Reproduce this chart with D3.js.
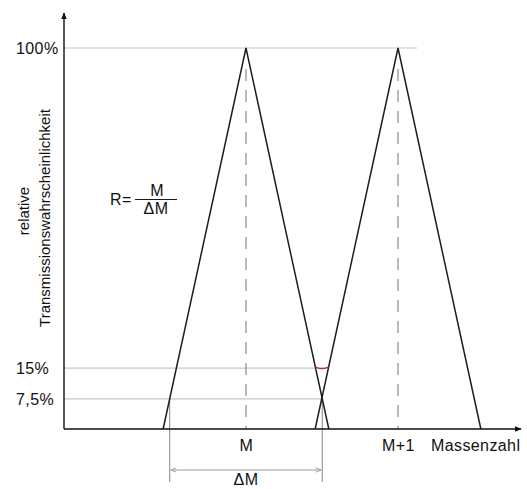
<!DOCTYPE html>
<html>
<head>
<meta charset="utf-8">
<script src="https://cdn.jsdelivr.net/npm/d3@7"></script>
<style>
  body { margin: 0; background: #fff; }
  svg { display: block; font-family: "Liberation Sans", Arial, sans-serif; }
  .lbl { font-size: 16px; letter-spacing: 0.4px; fill: #111; }
  .ytitle { font-size: 15px; fill: #111; }
</style>
</head>
<body>
<svg id="drawing_region"></svg>
<script>
// peaks at mass M and M+1 (x units: 0 = M)
const peakMasses = [0, 1];
const peakLabels = ['M', 'M+1'];
const peakHeight = 100;
const halfWidth = 0.545;        // half base width of a peak, in mass units
// horizontal reference levels (percent) and their labels
const levels = [100, 16, 7.9];
const levelLabels = ['100%', '15%', '7,5%'];
const xDomain = [-1.197, 1.809];
const gridTopEnd = 1.125;

const width = 527, height = 489;
const svg = d3.select('#drawing_region')
  .attr('width', width)
  .attr('height', height);

const xscale = d3.scaleLinear().domain(xDomain).range([64, 521]);
const yscale = d3.scaleLinear().domain([0, 100]).range([429, 48]);

// where a peak's flanks sit at a given level
const rightEdge = (m, lv) => m + halfWidth * (1 - lv / peakHeight);
const leftEdge = (m, lv) => m - halfWidth * (1 - lv / peakHeight);

const defs = svg.append('defs');
defs.append('marker')
  .attr('id', 'axarrow')
  .attr('viewBox', '0 0 10 10')
  .attr('refX', 9).attr('refY', 5)
  .attr('markerWidth', 7).attr('markerHeight', 7)
  .attr('markerUnits', 'userSpaceOnUse')
  .attr('orient', 'auto')
  .append('path').attr('d', 'M0,1 L10,5 L0,9 Z').attr('fill', '#111');
defs.append('marker')
  .attr('id', 'dmarrow')
  .attr('viewBox', '0 0 10 10')
  .attr('refX', 10).attr('refY', 5)
  .attr('markerWidth', 7).attr('markerHeight', 7)
  .attr('markerUnits', 'userSpaceOnUse')
  .attr('orient', 'auto-start-reverse')
  .append('path').attr('d', 'M2,2 L10,5 L2,8').attr('fill', 'none')
  .attr('stroke', '#999').attr('stroke-width', 1.2);

// grid lines
const gridEnds = [gridTopEnd, rightEdge(peakMasses[0], levels[1]), rightEdge(peakMasses[0], levels[2])];
svg.append('g').selectAll('line')
  .data(levels)
  .enter().append('line')
  .attr('x1', xscale(xDomain[0]))
  .attr('x2', (d, i) => xscale(gridEnds[i]))
  .attr('y1', d => yscale(d)).attr('y2', d => yscale(d))
  .attr('stroke', '#c8c8c8').attr('stroke-width', 1.2);

// level labels
svg.append('g').selectAll('text')
  .data(levels)
  .enter().append('text')
  .attr('class', 'lbl')
  .attr('x', 16)
  .attr('y', d => yscale(d))
  .attr('dy', '0.35em')
  .text((d, i) => levelLabels[i]);

// dashed centre lines
svg.append('g').selectAll('line')
  .data(peakMasses)
  .enter().append('line')
  .attr('x1', d => xscale(d)).attr('x2', d => xscale(d))
  .attr('y1', yscale(peakHeight) + 21).attr('y2', yscale(0))
  .attr('stroke', '#8a8a8a').attr('stroke-width', 1.2)
  .attr('stroke-dasharray', '12,9');

// ΔM brackets
const dmLeft = leftEdge(peakMasses[0], levels[2]);
const dmRight = rightEdge(peakMasses[0], levels[2]);
svg.append('g').selectAll('line')
  .data([dmLeft, dmRight])
  .enter().append('line')
  .attr('x1', d => xscale(d)).attr('x2', d => xscale(d))
  .attr('y1', yscale(levels[2])).attr('y2', 482)
  .attr('stroke', '#999').attr('stroke-width', 1.2);
svg.append('line')
  .attr('x1', xscale(dmLeft) + 1).attr('x2', xscale(dmRight) - 1)
  .attr('y1', 470).attr('y2', 470)
  .attr('stroke', '#999').attr('stroke-width', 1.2)
  .attr('marker-start', 'url(#dmarrow)')
  .attr('marker-end', 'url(#dmarrow)');

// peaks
const line = d3.line()
  .x(d => xscale(d[0]))
  .y(d => yscale(d[1]));
svg.append('g').selectAll('path')
  .data(peakMasses)
  .enter().append('path')
  .attr('d', m => line([[m - halfWidth, 0], [m, peakHeight], [m + halfWidth, 0]]))
  .attr('fill', 'none')
  .attr('stroke', '#1e1e1e').attr('stroke-width', 1.5);

// red mark between the flanks at 15%
const ra = xscale(rightEdge(peakMasses[0], levels[1]));
const rb = xscale(leftEdge(peakMasses[1], levels[1]));
const ry = yscale(levels[1]);
svg.append('path')
  .attr('d', `M${ra},${ry - 1} Q${(ra + rb) / 2},${ry + 2} ${rb},${ry - 1}`)
  .attr('fill', 'none')
  .attr('stroke', '#b03a3a').attr('stroke-width', 1.4);

// axes
svg.append('line')
  .attr('x1', xscale(xDomain[0])).attr('x2', xscale(xDomain[0]))
  .attr('y1', yscale(0)).attr('y2', 13)
  .attr('stroke', '#111').attr('stroke-width', 1.4)
  .attr('marker-end', 'url(#axarrow)');
svg.append('line')
  .attr('x1', xscale(xDomain[0])).attr('x2', xscale(xDomain[1]))
  .attr('y1', yscale(0)).attr('y2', yscale(0))
  .attr('stroke', '#111').attr('stroke-width', 1.4)
  .attr('marker-end', 'url(#axarrow)');

const xaxis = d3.axisBottom(xscale)
  .tickValues(peakMasses)
  .tickFormat((d, i) => peakLabels[i])
  .tickSize(0)
  .tickPadding(10.5);
const xg = svg.append('g')
  .attr('transform', `translate(0, ${yscale(0)})`)
  .call(xaxis);
xg.select('.domain').remove();
xg.selectAll('text')
  .attr('class', 'lbl')
  .attr('font-family', null).attr('font-size', null).attr('fill', null);

svg.append('text')
  .attr('class', 'lbl')
  .attr('x', 431).attr('y', 451)
  .text('Massenzahl');

svg.append('text')
  .attr('class', 'lbl')
  .attr('x', xscale(peakMasses[0])).attr('y', 485)
  .attr('text-anchor', 'middle')
  .text('ΔM');

// y axis title
svg.append('text')
  .attr('class', 'ytitle')
  .attr('transform', 'translate(28.5, 211) rotate(-90)')
  .attr('text-anchor', 'middle')
  .text('relative');
svg.append('text')
  .attr('class', 'ytitle')
  .attr('transform', 'translate(50, 218) rotate(-90)')
  .attr('text-anchor', 'middle')
  .text('Transmissionswahrscheinlichkeit');

// formula R = M / ΔM
svg.append('text')
  .attr('class', 'lbl')
  .attr('x', 110).attr('y', 204.5)
  .text('R=');
svg.append('line')
  .attr('x1', 135).attr('x2', 177)
  .attr('y1', 199.5).attr('y2', 199.5)
  .attr('stroke', '#1a1a1a').attr('stroke-width', 1.2);
svg.append('text')
  .attr('class', 'lbl')
  .attr('x', 157).attr('y', 196)
  .attr('text-anchor', 'middle')
  .text('M');
svg.append('text')
  .attr('class', 'lbl')
  .attr('x', 156).attr('y', 213.5)
  .attr('text-anchor', 'middle')
  .text('ΔM');
</script>
</body>
</html>
